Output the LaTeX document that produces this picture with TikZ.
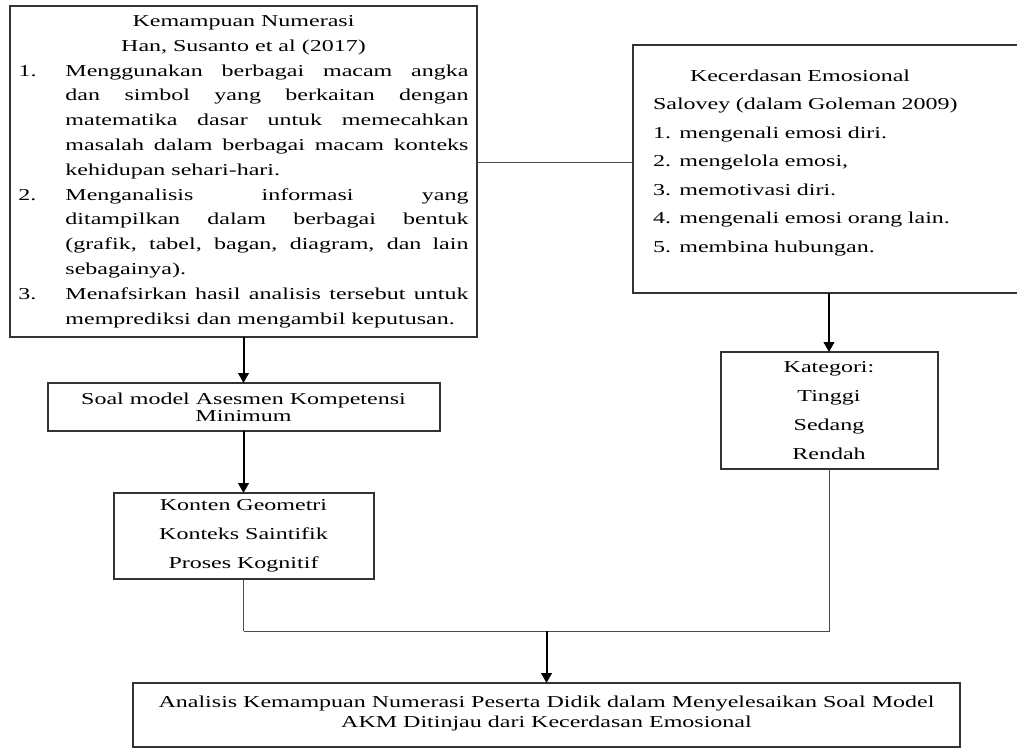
\documentclass[tikz,border=0pt]{standalone}
\usepackage{fontspec}
\setmainfont{Liberation Serif}[FakeStretch=1.44]
\usetikzlibrary{positioning, arrows.meta}

% butir bernomor dengan indentasi gantung
\newcommand{\nomor}[2]{\par\noindent\hangindent=35.25pt\hangafter=0\llap{\makebox[35.25pt][l]{#1}}#2\par}

\begin{document}
\begin{tikzpicture}[
        every node/.style={inner sep=0pt, outer sep=0pt},
        kotak/.style={rectangle, draw=black!80, line width=1.5pt},
        teori/.style={kotak, minimum width=350.25pt, minimum height=248.25pt, text width=337.5pt, align=justify, font=\fontsize{12.5}{18.6}\selectfont},
        emosi/.style={kotak, minimum width=294pt, minimum height=186pt, text width=264pt, align=left, font=\fontsize{12.5}{21.4}\selectfont},
        soalbox/.style={kotak, minimum width=294pt, minimum height=36pt, align=center, font=\fontsize{12.5}{12.75}\selectfont},
        isi/.style={kotak, minimum width=195pt, minimum height=64.5pt, align=center, font=\fontsize{12.5}{21.75}\selectfont},
        kategori/.style={kotak, minimum width=162.75pt, minimum height=87.75pt, align=center, font=\fontsize{12.5}{21.75}\selectfont},
        hasil/.style={kotak, minimum width=620.25pt, minimum height=48pt, align=center, font=\fontsize{12.5}{15}\selectfont},
        arrow/.style={-{Triangle[length=7.5pt, width=8pt]}, line width=1.5pt},
        line/.style={-, line width=0.75pt, black!70}
    ]
    \useasboundingbox (0,0) rectangle (762.75pt,-561.75pt);
%
    % Kolom kiri : numerasi
    \node[teori] (numerasi) at (182.625pt,-128.625pt) {%
        {\centering Kemampuan Numerasi\par Han, Susanto et al (2017)\par}
        \nomor{1.}{Menggunakan berbagai macam angka\linebreak dan simbol yang berkaitan dengan\linebreak matematika dasar untuk memecahkan\linebreak masalah dalam berbagai macam konteks\linebreak kehidupan sehari-hari.}
        \nomor{2.}{Menganalisis informasi yang\linebreak ditampilkan dalam berbagai bentuk\linebreak (grafik, tabel, bagan, diagram, dan lain\linebreak sebagainya).}
        \nomor{3.}{Menafsirkan hasil analisis tersebut untuk\linebreak memprediksi dan mengambil keputusan.}};
    \node[soalbox, below=34.5pt of numerasi] (soal) {Soal model Asesmen Kompetensi\\Minimum};
    \node[isi, below=46.5pt of soal] (konten) {Konten Geometri\\Konteks Saintifik\\Proses Kognitif};
%
    % Kolom kanan : kecerdasan emosional
    \node[emosi] (kecerdasan) at (621.75pt,-126.75pt) {\hspace*{27.75pt}Kecerdasan Emosional\\Salovey (dalam Goleman 2009)\\1. mengenali emosi diri.\\2. mengelola emosi,\\3. memotivasi diri.\\4. mengenali emosi orang lain.\\5. membina hubungan.\\[-9.4pt]\mbox{}};
    \node[kategori, below=44.25pt of kecerdasan] (tingkat) {Kategori:\\Tinggi\\Sedang\\Rendah};
%
    % Hasil akhir
    \node[hasil] (analisis) at (409.875pt,-536.25pt) {Analisis Kemampuan Numerasi Peserta Didik dalam Menyelesaikan Soal Model\\AKM Ditinjau dari Kecerdasan Emosional\\[-10.5pt]\mbox{}};
%
    % Garis penghubung
    \draw[line] ([yshift=5.25pt]kecerdasan.west) -- ([yshift=5.25pt]kecerdasan.west -| numerasi.east);
    \draw[arrow] (numerasi.south) -- (soal.north);
    \draw[arrow] (soal.south) -- (konten.north);
    \draw[arrow] (kecerdasan.south) -- (tingkat.north);
    \draw[line] (konten.south) -- ++(0,-39pt) coordinate (mid0);
    \draw[line] (mid0) -| (tingkat.south);
    \draw[arrow] (analisis.north |- mid0) -- (analisis.north);
%
\end{tikzpicture}
\end{document}
